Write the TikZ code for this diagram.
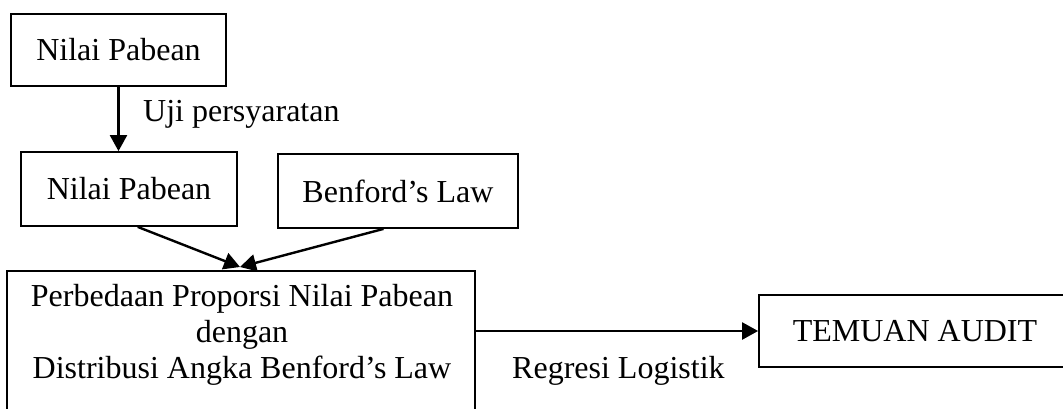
\documentclass[tikz,border=0pt]{standalone}
\usepackage{fontspec}
\setmainfont{Liberation Serif}
\usetikzlibrary{arrows.meta,calc}
\tikzset{
  txt/.style={font=\fontsize{32}{36}\selectfont, inner sep=0pt},
  box/.style={txt, draw, line width=1.8pt, align=center},
  arr/.style={line width=2.4pt, -{Triangle[length=16pt,width=17pt]}},
}
\begin{document}
\begin{tikzpicture}[x=1pt,y=-1pt]
\useasboundingbox (0,0) rectangle (1063,409);
\clip (0,0) rectangle (1063,409);
\node[box, minimum width=215pt, minimum height=72pt] (box1) at (118.5,50) {Nilai Pabean};
\node[box, minimum width=216pt, minimum height=74pt] (box2) at (129,189) {Nilai Pabean};
\node[box, minimum width=240pt, minimum height=74pt] (box3) at (398,191) {Benford’s Law};
\node[box, minimum width=468pt, minimum height=170pt, anchor=north] (big) at (241,270) {};
\node[txt, align=center] (bigtext) at (242,335) {Perbedaan Proporsi Nilai Pabean\\dengan\\Distribusi Angka Benford’s Law};
\node[box, minimum width=312pt, minimum height=72pt] (temuan) at (915,331) {TEMUAN AUDIT};
\node[txt, anchor=base west] (uji) at (143,122) {Uji persyaratan};
\node[txt, anchor=base west] (regresi) at (512,378) {Regresi Logistik};
\coordinate (meet) at (240,267);
\draw[arr] (box1.south) -- (box1.south |- box2.north);
\draw[arr] ($(box2.south west)!0.54!(box2.south east)$) -- (meet);
\draw[arr] ($(box3.south west)!0.44!(box3.south east)$) -- (meet);
\draw[arr] (big.east |- temuan.west) -- (temuan.west);
\end{tikzpicture}
\end{document}
